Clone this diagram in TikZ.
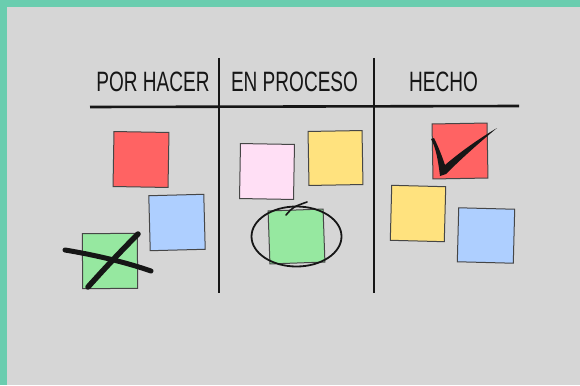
\documentclass[tikz,border=0pt]{standalone}
\usepackage{xcolor}
\usepackage{tikz}
\usepackage{fontspec}
\setmainfont{Liberation Sans}
\usetikzlibrary{positioning}
\definecolor{frame}{RGB}{106,205,175}
\definecolor{board}{RGB}{214,214,214}
\definecolor{noteRed}{RGB}{255,99,99}
\definecolor{noteBlue}{RGB}{174,207,255}
\definecolor{noteGreen}{RGB}{150,232,160}
\definecolor{notePink}{RGB}{255,223,245}
\definecolor{noteYellow}{RGB}{255,226,126}
\definecolor{ink}{RGB}{22,22,22}
\definecolor{edge}{RGB}{70,70,70}
\tikzset{%
  % Specifications for style of nodes:
  note/.style = {rectangle, draw=edge, line width=1pt,
    inner sep=0pt, minimum width=55pt, minimum height=55pt},
  heading/.style = {anchor=base, inner sep=0pt, text=ink,
    font=\fontsize{28}{30}\selectfont, xscale=0.68},
  rule/.style = {draw=ink, line width=2.6pt},
  strike/.style = {draw=ink, line width=5pt, line cap=round},
}

\begin{document}
\begin{tikzpicture}[x=1pt, y=-1pt]
        \useasboundingbox (0,0) rectangle (580,385);
        % board and frame
        \fill[board] (0,0) rectangle (580,385);
        \fill[frame] (0,0) rectangle (580,7);
        \fill[frame] (0,0) rectangle (7,385);
        % Specification of headings
        \node(todo)[heading] at (153,92) {POR HACER};
        \node(doing)[heading] at (294.5,92) {EN PROCESO};
        \node(done)[heading] at (443.5,92) {HECHO};
        % columns
        \draw[rule] (90,107) -- (519,106);
        \draw[rule] (219,58) -- (219,293);
        \draw[rule] (374,58) -- (374,293);
        % Specification of notes (position, etc.)
        \node(redA)[note, fill=noteRed, rotate=-1] at (141,159.5) {};
        \node(blueA)[note, fill=noteBlue, rotate=1.5] at (177,222.5) {};
        \node(greenA)[note, fill=noteGreen, rotate=0.5] at (110,261) {};
        \node(pinkB)[note, fill=notePink, minimum width=54pt, rotate=-1] at (267,171.5) {};
        \node(yellowB)[note, fill=noteYellow, minimum width=54pt, minimum height=54pt, rotate=1] at (335.5,158) {};
        \node(greenB)[note, fill=noteGreen, minimum height=53pt, rotate=2] at (296.5,236.5) {};
        \node(redC)[note, fill=noteRed, rotate=1] at (460,151) {};
        \node(yellowC)[note, fill=noteYellow, minimum width=54pt, rotate=-1.5] at (418,213.5) {};
        \node(blueC)[note, fill=noteBlue, minimum width=56pt, minimum height=54pt, rotate=-1.5] at (486,235.5) {};
        % cross over the first green note
        \draw[strike] (65,250) .. controls (95,255) and (125,262) .. (151,271);
        \draw[strike, line width=5.5pt] (88,287) .. controls (105,268) and (122,250) .. (138,234);
        % circle round the green note in progress
        \draw[ink, line width=1.8pt] (greenB.center) ellipse [x radius=45pt, y radius=30pt];
        \draw[ink, line width=1.6pt, line cap=round] (286,215) .. controls (293,207) .. (307,202);
        % tick on the red note that is done
        \fill[ink] (431,139) .. controls (436,148) and (438,160) .. (440,176)
          -- (446,174) .. controls (462,158) and (480,142) .. (497,128)
          .. controls (480,138) and (460,152) .. (445,165)
          .. controls (442,156) and (438,146) .. (434,138) -- cycle;
    \end{tikzpicture}
\end{document}
